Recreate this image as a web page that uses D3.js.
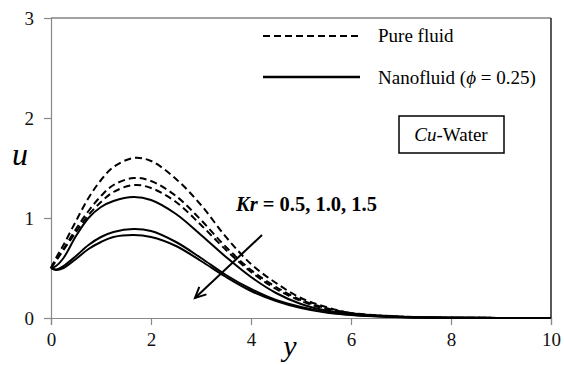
<!DOCTYPE html>
<html><head><meta charset="utf-8">
<script src="https://cdn.jsdelivr.net/npm/d3@7"></script>
<style>body{margin:0;background:#fff}svg{display:block}text{font-family:"Liberation Serif","Times New Roman",serif}</style>
</head><body><svg id="c" width="564" height="365"></svg>
<script>
const xs = [0, 0.1, 0.25, 0.5, 0.75, 1, 1.25, 1.65, 2, 2.5, 3, 3.5, 4, 4.5, 5, 5.5, 6, 7, 8, 9, 10];
const pure1 = [0.5, 0.6, 0.73, 0.97, 1.2, 1.38, 1.51, 1.60, 1.57, 1.39, 1.13, 0.81, 0.54, 0.35, 0.20, 0.11, 0.05, 0.015, 0.004, 0.001, 0];
const pure2 = [0.5, 0.58, 0.69, 0.89, 1.07, 1.22, 1.33, 1.40, 1.37, 1.22, 0.98, 0.71, 0.48, 0.31, 0.18, 0.10, 0.05, 0.013, 0.003, 0.001, 0];
const pure3 = [0.5, 0.57, 0.68, 0.86, 1.03, 1.16, 1.26, 1.33, 1.30, 1.16, 0.93, 0.68, 0.46, 0.29, 0.17, 0.09, 0.045, 0.012, 0.003, 0.001, 0];
const nano1 = [0.5, 0.52, 0.6, 0.82, 1.0, 1.11, 1.17, 1.21, 1.18, 1.04, 0.83, 0.61, 0.41, 0.25, 0.14, 0.075, 0.04, 0.01, 0.002, 0.0005, 0];
const nano2 = [0.5, 0.485, 0.52, 0.62, 0.73, 0.81, 0.86, 0.89, 0.87, 0.76, 0.60, 0.43, 0.29, 0.18, 0.11, 0.06, 0.033, 0.009, 0.002, 0.0005, 0];
const nano3 = [0.5, 0.48, 0.5, 0.59, 0.69, 0.76, 0.81, 0.83, 0.81, 0.72, 0.57, 0.41, 0.27, 0.17, 0.10, 0.055, 0.03, 0.008, 0.002, 0.0005, 0];
const xTicks = [0, 2, 4, 6, 8, 10];
const yTicks = [0, 1, 2, 3];
const arrowX = [4.22, 2.88];
const arrowY = [0.83, 0.20];

const svg = d3.select("#c");
const m = {l:51, r:13, t:18, b:47};
const W = 564, H = 365;
const x = d3.scaleLinear().domain([0,10]).range([m.l, W-m.r]);
const y = d3.scaleLinear().domain([0,3]).range([H-m.b, m.t]);
const SERIF = "Liberation Serif, Times New Roman, serif";

// frame top/right
svg.append("line").attr("x1",x(0)).attr("x2",x(10)).attr("y1",y(3)).attr("y2",y(3)).attr("stroke","#444").attr("stroke-width",1);
svg.append("line").attr("x1",x(10)).attr("x2",x(10)).attr("y1",y(3)).attr("y2",y(0)).attr("stroke","#222").attr("stroke-width",1.5);

const xAxis = svg.append("g").attr("transform",`translate(0,${y(0)})`)
  .call(d3.axisBottom(x).tickValues(xTicks).tickSize(7).tickPadding(8).tickFormat(d3.format("d")));
const yAxis = svg.append("g").attr("transform",`translate(${x(0)},0)`)
  .call(d3.axisLeft(y).tickValues(yTicks).tickSize(7).tickPadding(10).tickFormat(d3.format("d")));
[xAxis,yAxis].forEach(g=>{
  g.attr("font-family",SERIF);
  g.select(".domain").attr("stroke","#888").attr("stroke-width",1.2);
  g.selectAll(".tick line").attr("stroke","#888").attr("stroke-width",1.2);
  g.selectAll("text").attr("font-size",19).attr("fill","#111").attr("font-family",SERIF);
});
xAxis.selectAll(".tick").filter(d=>d===0).select("line").attr("y1",0);

const line = d3.line().x((d,i)=>x(xs[i])).y(d=>y(d)).curve(d3.curveCatmullRom.alpha(0.5));
const g = svg.append("g").attr("fill","none").attr("stroke","#000").attr("stroke-width",2);
[pure1,pure2,pure3].forEach(s=>g.append("path").attr("d",line(s)).attr("stroke-dasharray","7,4"));
[nano1,nano2,nano3].forEach(s=>g.append("path").attr("d",line(s)));

// arrow
const ax1=x(arrowX[0]), ay1=y(arrowY[0]), ax2=x(arrowX[1]), ay2=y(arrowY[1]);
svg.append("line").attr("x1",ax1).attr("y1",ay1).attr("x2",ax2).attr("y2",ay2).attr("stroke","#000").attr("stroke-width",2);
const ang = Math.atan2(ay2-ay1, ax2-ax1), L=12, sp=0.45;
const p1=[ax2-L*Math.cos(ang-sp), ay2-L*Math.sin(ang-sp)], p2=[ax2-L*Math.cos(ang+sp), ay2-L*Math.sin(ang+sp)];
svg.append("path").attr("d",`M${p1}L${ax2},${ay2}L${p2}`).attr("fill","none").attr("stroke","#000").attr("stroke-width",2);

// Kr label
const kr = svg.append("text").attr("x",236).attr("y",211).attr("font-size",20.5).attr("font-weight","bold").attr("fill","#000").attr("font-family",SERIF);
kr.append("tspan").attr("font-style","italic").text("Kr");
kr.append("tspan").text(" = 0.5, 1.0, 1.5");

// legend
svg.append("line").attr("x1",263).attr("x2",360).attr("y1",36).attr("y2",36).attr("stroke","#000").attr("stroke-width",2).attr("stroke-dasharray","7,4");
svg.append("text").attr("x",378).attr("y",42).attr("font-size",19).attr("fill","#000").attr("font-family",SERIF).text("Pure fluid");
svg.append("line").attr("x1",263).attr("x2",360).attr("y1",77).attr("y2",77).attr("stroke","#000").attr("stroke-width",2.5);
const nt = svg.append("text").attr("x",378).attr("y",84).attr("font-size",19).attr("fill","#000").attr("font-family",SERIF);
nt.append("tspan").text("Nanofluid (");
nt.append("tspan").attr("font-style","italic").text("ϕ");
nt.append("tspan").text(" = 0.25)");

svg.append("rect").attr("x",399).attr("y",116).attr("width",105).attr("height",37).attr("fill","none").attr("stroke","#000").attr("stroke-width",1.5);
const cw = svg.append("text").attr("x",451).attr("y",141).attr("text-anchor","middle").attr("font-size",19).attr("fill","#000").attr("font-family",SERIF);
cw.append("tspan").attr("font-style","italic").text("Cu");
cw.append("tspan").text("-Water");

// axis titles
svg.append("text").attr("x",20).attr("y",165).attr("text-anchor","middle").attr("font-size",32).attr("font-style","italic").attr("fill","#000").attr("font-family",SERIF).text("u");
svg.append("text").attr("x",290).attr("y",356).attr("text-anchor","middle").attr("font-size",30).attr("font-style","italic").attr("fill","#000").attr("font-family",SERIF).text("y");
</script></body></html>
